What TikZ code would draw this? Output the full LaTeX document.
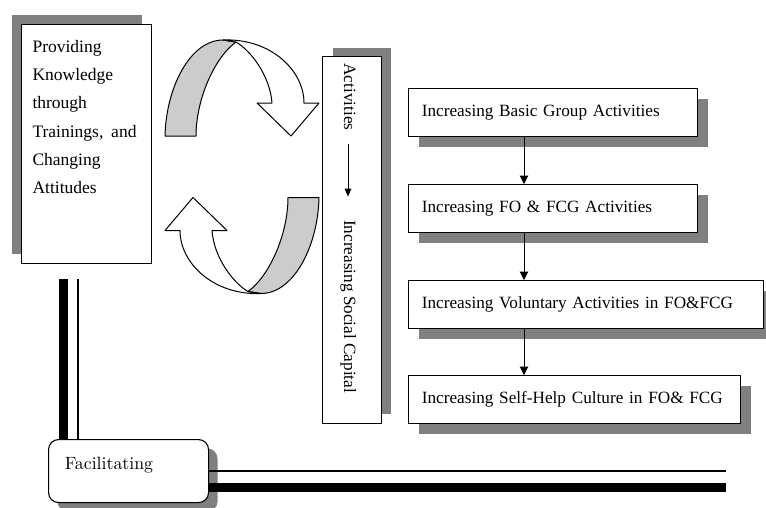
\documentclass[tikz,border=0pt]{standalone}
\usepackage{fontspec}
\newfontfamily\tnr{Liberation Serif}
\newfontfamily\lmten{lmroman10-regular}[Extension=.otf]
\usetikzlibrary{arrows.meta,shadows}

\definecolor{shade}{RGB}{128,128,128}
\definecolor{band}{RGB}{204,204,204}

% one curved ribbon arrow: shaded back face plus white front with arrowhead
\newcommand\ribbonarrow{%
  \filldraw[ribbon, fill=band]
    (165,136) .. controls (166,88) and (190,40) .. (223,40)
    -- (236,42) .. controls (214,58) and (196,100) .. (196,136) -- cycle;
  \filldraw[ribbon, fill=white]
    (223,40) .. controls (270,38) and (304,70) .. (304,103)
    -- (319,103) -- (291,136) -- (257,103) -- (272,103)
    .. controls (270,75) and (250,50) .. (236,42) -- cycle;
}

\begin{document}
\begin{tikzpicture}[x=1pt,y=-1pt,
  frame/.style={draw=black, line width=1.1pt, fill=white},
  ribbon/.style={draw=black, line width=1pt, line join=round},
  tnrtext/.style={font=\tnr\fontsize{17.2}{20}\selectfont},
  lbox/.style={frame, general shadow={fill=shade, shadow xshift=-10pt, shadow yshift=10pt}},
  vbox/.style={frame, general shadow={fill=shade, shadow xshift=10pt, shadow yshift=9pt}},
  rbox/.style={frame, tnrtext, general shadow={fill=shade, shadow xshift=10pt, shadow yshift=-10pt},
    anchor=north west, minimum height=48pt, inner xsep=13.3pt, inner ysep=0pt,
    align=left, text height=11pt, text depth=4pt},
  fbox/.style={frame, rounded corners=10pt, general shadow={fill=shade, shadow xshift=9pt, shadow yshift=-9pt}},
  vtext/.style={tnrtext, rotate=-90, inner sep=0pt, text height=12pt, text depth=4pt},
  flow/.style={line width=1pt, -{Triangle[length=8.3pt,width=8.3pt]}},
  heavy/.style={line width=9pt},
  light/.style={line width=1.2pt},
]
\useasboundingbox (0,0) rectangle (766,507);

% left block
\node[lbox, anchor=north west, minimum width=130pt, text width=108pt,
  inner xsep=11pt, inner ysep=0pt, align=left, text height=27.7pt, text depth=211.3pt,
  font=\tnr\fontsize{17.5}{28.3}\selectfont] (know) at (21,24)
  {Providing\\Knowledge\\through\\Trainings,\hspace{0.45em}and\\Changing\\Attitudes};

% the two ribbon arrows
\begin{scope}
  \ribbonarrow
\end{scope}
\begin{scope}[rotate around={180:(242,166.75)}]
  \ribbonarrow
\end{scope}

% vertical block
\node[vbox, anchor=north west, minimum width=58.4pt, minimum height=366.7pt] (soc) at (322.3,56) {};
\node[vtext, anchor=west] (act) at (348,63.3) {Activities};
\node[vtext, anchor=west] (isc) at (348,220) {Increasing Social Capital};
\draw[line width=1pt, -{Triangle[length=8pt,width=6.5pt]}, shorten <=13.3pt, shorten >=23.3pt]
  (act.east) -- (isc.west);

% right column
\node[rbox, text width=262.4pt] (b1) at (408,88)  {Increasing Basic Group Activities};
\node[rbox, text width=262.4pt] (b2) at (408,184) {Increasing FO \& FCG Activities};
\node[rbox, text width=328.4pt] (b3) at (408,280) {Increasing Voluntary Activities in FO\&FCG};
\node[rbox, text width=305.4pt] (b4) at (408,375) {Increasing Self-Help Culture in FO\& FCG};
\coordinate (ax) at (524,0);
\draw[flow] (b1.south -| ax) -- (b2.north -| ax);
\draw[flow] (b2.south -| ax) -- (b3.north -| ax);
\draw[flow] (b3.south -| ax) -- (b4.north -| ax);

% facilitating block and its bars
\node[fbox, anchor=north west, minimum width=160pt, minimum height=63pt,
  inner xsep=16.3pt, inner ysep=0pt, text width=127.4pt, align=left,
  text height=12pt, text depth=14.4pt, font=\lmten\fontsize{17.8}{20}\selectfont] (fac) at (48,439)
  {Facilitating};
\coordinate (vl1) at (63.5,279);
\coordinate (vl2) at (78,279);
\coordinate (hl1) at (726,471);
\coordinate (hl2) at (726,487);
\draw[heavy] (vl1) -- (vl1 |- fac.north);
\draw[light] (vl2) -- (vl2 |- fac.north);
\draw[light] (fac.east |- hl1) -- (hl1);
\draw[heavy] (fac.east |- hl2) -- (hl2);
\end{tikzpicture}
\end{document}
